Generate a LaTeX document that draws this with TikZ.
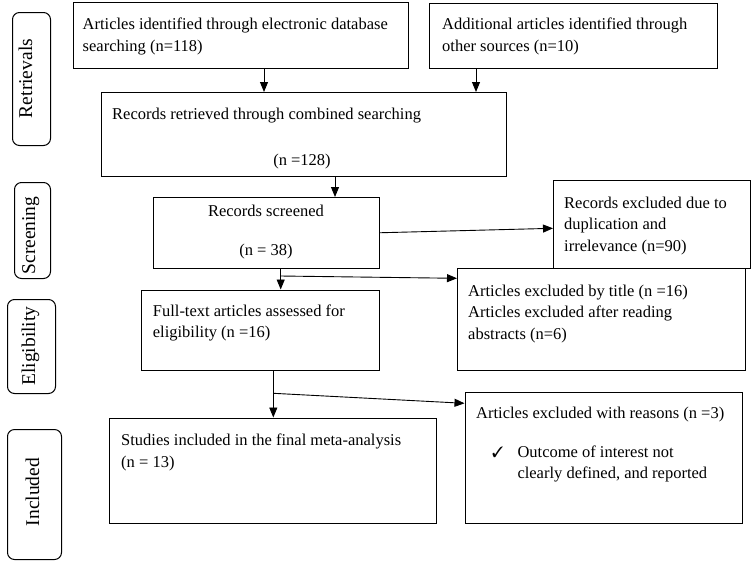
\documentclass[tikz,border=0pt]{standalone}
\usepackage{fontspec}
\setmainfont{Liberation Serif}
\usepackage{pifont}
\usetikzlibrary{arrows.meta}
\begin{document}
\begin{tikzpicture}[x=1pt,y=-1pt,
  box/.style={draw, line width=1pt, inner sep=0, anchor=north west},
  lab/.style={draw, line width=1pt, rounded corners=7pt, inner sep=0, anchor=north west},
  txt/.style={inner sep=0, anchor=north west, align=left, font=\fontsize{16.5}{21.5}\selectfont},
  ctxt/.style={inner sep=0, anchor=base, font=\fontsize{16.5}{21.5}\selectfont},
  ltxt/.style={inner sep=0, anchor=base, rotate=90, font=\fontsize{19.5}{23}\selectfont},
  arr/.style={line width=0.9pt, -{Triangle[length=10pt,width=8pt]}}]
\useasboundingbox (0,0) rectangle (751,560);
% phase labels
\node[lab, minimum width=38pt, minimum height=133pt] (L1) at (12,12) {};
\node[lab, minimum width=36pt, minimum height=96pt] (L2) at (14,182) {};
\node[lab, minimum width=48pt, minimum height=94pt] (L3) at (7,299) {};
\node[lab, minimum width=54pt, minimum height=130pt] (L4) at (7,429) {};
\node[ltxt] (l1) at (32,78.5) {Retrievals};
\node[ltxt] (l2) at (35,235.5) {Screening};
\node[ltxt] (l3) at (35,346) {Eligibility};
\node[ltxt] (l4) at (39,492) {Included};
% boxes
\node[box, minimum width=335.5pt, minimum height=66pt] (b1) at (72.5,2) {};
\node[box, minimum width=288pt, minimum height=65pt] (b2) at (429,3) {};
\node[box, minimum width=405pt, minimum height=84pt] (b3) at (101,92) {};
\node[box, minimum width=226pt, minimum height=70.5pt] (b4) at (153,197) {};
\node[box, minimum width=197pt, minimum height=88.5pt] (b5) at (553,179.5) {};
\node[box, minimum width=238pt, minimum height=80.5pt] (b6) at (141,289.5) {};
\node[box, minimum width=288pt, minimum height=102pt] (b7) at (457,268) {};
\node[box, minimum width=327pt, minimum height=105.5pt] (b8) at (109,417.5) {};
\node[box, minimum width=277.5pt, minimum height=131pt] (b9) at (464.5,392) {};
% texts
\node[txt] (t1) at (82.5,14.45) {\strut Articles identified through electronic database\\searching (n=118)};
\node[txt] (t2) at (442,14.45) {\strut Additional articles identified through\\other sources (n=10)};
\node[txt] (t3) at (112,103.95) {\strut Records retrieved through combined searching};
\node[ctxt] (t3b) at (302,165.5) {(n =128)};
\node[ctxt] (t4) at (266,216.7) {Records screened};
\node[ctxt] (t4b) at (266,255.5) {(n = 38)};
\node[txt] (t5) at (564,192.95) {\strut Records excluded due to\\duplication and\\irrelevance (n=90)};
\node[txt] (t6) at (152.7,300.95) {\strut Full-text articles assessed for\\eligibility (n =16)};
\node[txt] (t7) at (468,280.95) {\strut Articles excluded by title (n =16)\\Articles excluded after reading\\abstracts (n=6)};
\node[txt] (t8) at (121,430.45) {\strut Studies included in the final meta-analysis\\(n = 13)};
\node[txt, anchor=base west] (t9) at (476,418.5) {Articles excluded with reasons (n =3)};
\node[txt, anchor=base west, font=\fontsize{15}{18}\selectfont] (t9c) at (492,457) {\ding{51}};
\node[txt] (t9b) at (517.3,441.95) {\strut Outcome of interest not\\clearly defined, and reported};
% connectors
\coordinate (x1) at (264,0);
\draw[arr] (b1.south -| x1) -- (b3.north -| x1);
\coordinate (x2) at (476,0);
\draw[arr] (b2.south -| x2) -- (b3.north -| x2);
\coordinate (x3) at (335,0);
\draw[arr] (b3.south -| x3) -- (b4.north -| x3);
\coordinate (y4) at (0,228.3);
\draw[arr] (b4.east) -- (b5.west |- y4);
\coordinate (x5) at (280.7,0);
\draw[arr] (b4.south -| x5) -- (b6.north -| x5);
\coordinate (j1) at (280.7,276);
\coordinate (y6) at (0,278.3);
\draw[arr] (j1) -- (b7.west |- y6);
\coordinate (x7) at (273.3,0);
\draw[arr] (b6.south -| x7) -- (b8.north -| x7);
\coordinate (j2) at (273.3,393.3);
\coordinate (y8) at (0,403.3);
\draw[arr] (j2) -- (b9.west |- y8);
\end{tikzpicture}
\end{document}
